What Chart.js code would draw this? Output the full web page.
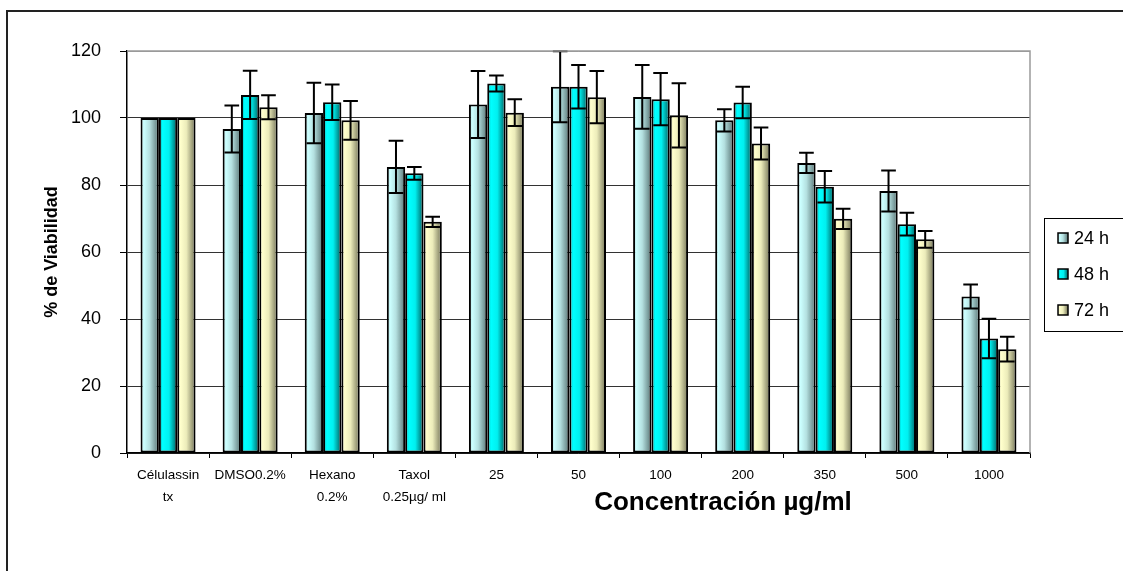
<!DOCTYPE html>
<html>
<head>
<meta charset="utf-8">
<script src="https://cdn.jsdelivr.net/npm/chart.js@4.4.1/dist/chart.umd.min.js"></script>
<style>
  html, body { margin: 0; padding: 0; background: #fff; }
  canvas { display: block; }
</style>
</head>
<body>
<canvas id="viabilidad" width="1123" height="571"></canvas>
<script>
// Datos: % de viabilidad por tratamiento y tiempo de exposición
var categorias = [['Célulassin', 'tx'], 'DMSO0.2%', ['Hexano', '0.2%'], ['Taxol', '0.25µg/ ml'],
  '25', '50', '100', '200', '350', '500', '1000'];
var series = ['24 h', '48 h', '72 h'];

var v24 = [100, 96.7, 101.5, 85.4, 104.0, 109.3, 106.3, 99.3, 86.6, 78.2, 46.7];
var v48 = [100, 106.9, 104.7, 83.5, 110.3, 109.3, 105.6, 104.6, 79.5, 68.3, 34.2];
var v72 = [100, 103.2, 99.3, 69.0, 101.6, 106.2, 100.8, 92.4, 69.9, 63.8, 31.0];

// desviación estándar (barras de error)
var de24 = [0, 7.0, 9.0, 7.8, 10.0, 10.6, 9.5, 3.3, 3.0, 6.1, 3.6];
var de48 = [0, 7.2, 5.3, 1.9, 2.4, 6.5, 7.8, 4.7, 4.7, 3.4, 5.9];
var de72 = [0, 3.6, 5.8, 1.5, 4.0, 7.8, 9.6, 4.8, 3.0, 2.5, 3.7];

var yTicks = [0, 20, 40, 60, 80, 100, 120];

var FONT = "'Liberation Sans', Arial, sans-serif";

// degradados tipo Excel para cada serie
var degradados = [
  [[0, '#a6d6d6'], [0.18, '#ccffff'], [0.5, '#b4e0e0'], [1, '#587474']],
  [[0, '#00a0a0'], [0.2, '#00ffff'], [0.55, '#00f0f0'], [1, '#005e5e']],
  [[0, '#deddb0'], [0.18, '#ffffcc'], [0.5, '#ececba'], [1, '#727256']]
];

function hacerDegradado(ctx, x0, x1, stops) {
  var g = ctx.createLinearGradient(x0, 0, x1, 0);
  stops.forEach(function(s) { g.addColorStop(s[0], s[1]); });
  return g;
}

// marco exterior y borde gris del área de trazado
var marco = {
  id: 'marco',
  beforeDraw: function(chart) {
    var ctx = chart.ctx;
    ctx.save();
    ctx.fillStyle = '#fff';
    ctx.fillRect(0, 0, chart.width, chart.height);
    ctx.strokeStyle = '#222';
    ctx.lineWidth = 2;
    ctx.beginPath();
    ctx.moveTo(7, chart.height);
    ctx.lineTo(7, 11);
    ctx.lineTo(chart.width, 11);
    ctx.stroke();
    ctx.restore();
  },
  afterDraw: function(chart) {
    var a = chart.chartArea, ctx = chart.ctx;
    ctx.save();
    ctx.strokeStyle = '#9a9a9a';
    ctx.lineWidth = 1.5;
    ctx.beginPath();
    ctx.moveTo(a.left, a.top);
    ctx.lineTo(a.right, a.top);
    ctx.lineTo(a.right, a.bottom);
    ctx.stroke();
    ctx.restore();
  }
};

// rellena cada barra con su degradado horizontal
var relleno = {
  id: 'relleno',
  beforeDatasetsDraw: function(chart) {
    chart.data.datasets.forEach(function(ds, i) {
      chart.getDatasetMeta(i).data.forEach(function(bar) {
        var g = hacerDegradado(chart.ctx, bar.x - bar.width / 2, bar.x + bar.width / 2, degradados[i]);
        bar.options = Object.assign({}, bar.options, { backgroundColor: g });
      });
    });
  }
};

// barras de error (± desviación)
var barrasError = {
  id: 'barrasError',
  afterDatasetsDraw: function(chart) {
    var ctx = chart.ctx, y = chart.scales.y;
    ctx.save();
    ctx.strokeStyle = '#000';
    ctx.lineWidth = 2;
    chart.data.datasets.forEach(function(ds, i) {
      chart.getDatasetMeta(i).data.forEach(function(bar, j) {
        var e = ds.errores[j];
        if (!e) return;
        var v = ds.data[j];
        var yA = y.getPixelForValue(v + e), yB = y.getPixelForValue(v - e);
        var c = bar.width * 0.4;
        ctx.beginPath();
        ctx.moveTo(bar.x, yA); ctx.lineTo(bar.x, yB);
        ctx.moveTo(bar.x - c, yA); ctx.lineTo(bar.x + c, yA);
        ctx.moveTo(bar.x - c, yB); ctx.lineTo(bar.x + c, yB);
        ctx.stroke();
      });
    });
    ctx.restore();
  }
};

// leyenda con recuadro a la derecha
var leyenda = {
  id: 'leyenda',
  afterDraw: function(chart) {
    var ctx = chart.ctx;
    var x0 = 1044, y0 = 218, h = 113;
    ctx.save();
    ctx.strokeStyle = '#000';
    ctx.lineWidth = 1;
    ctx.strokeRect(x0 + 0.5, y0 + 0.5, 200, h);
    ctx.font = '18px ' + FONT;
    ctx.textBaseline = 'middle';
    chart.data.datasets.forEach(function(ds, i) {
      var cy = y0 + 20 + i * 36;
      var sx = 1058, s = 10;
      ctx.fillStyle = hacerDegradado(ctx, sx, sx + s, degradados[i]);
      ctx.fillRect(sx, cy - s / 2, s, s);
      ctx.lineWidth = 1.5;
      ctx.strokeRect(sx, cy - s / 2, s, s);
      ctx.fillStyle = '#000';
      ctx.fillText(ds.label, 1074, cy + 1);
    });
    ctx.restore();
  }
};

// título del eje X (desplazado a la derecha)
var tituloX = {
  id: 'tituloX',
  afterDraw: function(chart) {
    var ctx = chart.ctx, a = chart.chartArea;
    ctx.save();
    ctx.font = 'bold 26px ' + FONT;
    ctx.fillStyle = '#000';
    ctx.textAlign = 'center';
    ctx.textBaseline = 'middle';
    ctx.fillText('Concentración µg/ml', a.left + a.width * 0.66, 503);
    ctx.restore();
  }
};

var valores = [v24, v48, v72];
var errores = [de24, de48, de72];

new Chart(document.getElementById('viabilidad'), {
  type: 'bar',
  data: {
    labels: categorias,
    datasets: series.map(function(s, i) {
      return {
        label: s,
        data: valores[i],
        errores: errores[i],
        backgroundColor: degradados[i][1][1],
        borderColor: '#000',
        borderWidth: 2,
        borderSkipped: false,
        categoryPercentage: 0.67,
        barPercentage: 1.0
      };
    })
  },
  options: {
    responsive: false,
    animation: false,
    devicePixelRatio: 1,
    layout: { padding: { left: 0, top: 51, right: 93, bottom: 0 } },
    plugins: {
      legend: { display: false },
      tooltip: { enabled: false }
    },
    scales: {
      x: {
        afterFit: function(s) { s.height = 118; },
        grid: { offset: true, drawOnChartArea: false, tickLength: 5, tickColor: '#000', tickWidth: 1 },
        border: { color: '#000', width: 1.5 },
        ticks: {
          color: '#000',
          padding: 6,
          maxRotation: 0,
          autoSkip: false,
          font: { family: FONT, size: 13.5, lineHeight: 1.65 }
        }
      },
      y: {
        min: 0,
        max: 120,
        afterFit: function(s) { s.width = 127; },
        afterBuildTicks: function(s) { s.ticks = yTicks.map(function(v) { return { value: v }; }); },
        grid: {
          color: function(c) { return c.tick && c.tick.value === 120 ? '#9a9a9a' : '#333'; },
          lineWidth: 1,
          tickLength: 7,
          tickColor: '#000'
        },
        border: { color: '#000', width: 1.5 },
        ticks: {
          color: '#000',
          padding: 19,
          font: { family: FONT, size: 18 }
        },
        title: {
          display: true,
          text: '% de Viabilidad',
          color: '#000',
          padding: { top: 41, bottom: 0 },
          font: { family: FONT, size: 18, weight: 'bold' }
        }
      }
    }
  },
  plugins: [marco, relleno, barrasError, leyenda, tituloX]
});
</script>
</body>
</html>
